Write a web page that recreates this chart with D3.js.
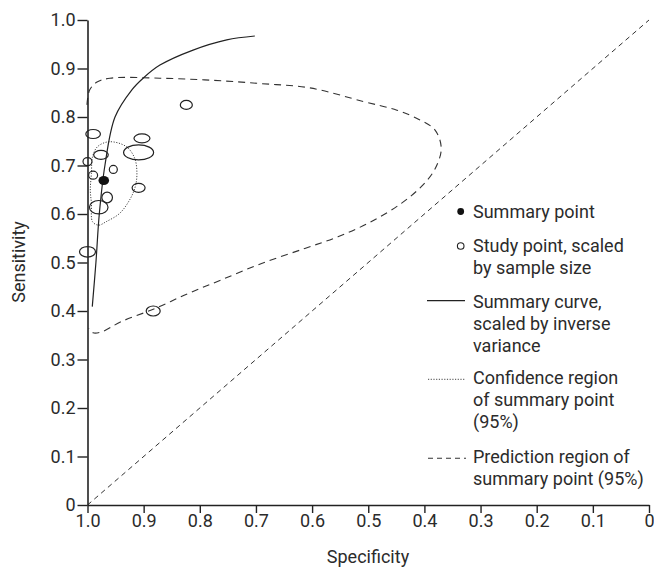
<!DOCTYPE html>
<html><head><meta charset="utf-8">
<script src="https://cdn.jsdelivr.net/npm/d3@7"></script>
<style>
body{margin:0;background:#fff;}
text{font-family:Roboto,"DejaVu Sans",sans-serif;fill:#2b2b2b;}
</style></head>
<body><svg id="c" width="654" height="568"></svg>
<script>
// ---- data ----
const xTicks = [1.0,0.9,0.8,0.7,0.6,0.5,0.4,0.3,0.2,0.1,0];
const yTicks = [0,0.1,0.2,0.3,0.4,0.5,0.6,0.7,0.8,0.9,1.0];
const studySpec = [0.824,0.990,0.903,0.909,0.976,1.000,0.954,0.990,0.909,0.965,0.980,1.000,0.883];
const studySens = [0.825,0.765,0.756,0.727,0.722,0.708,0.692,0.680,0.654,0.634,0.614,0.522,0.400];
const studyNeg  = [60,73,80,150,73,45,40,45,65,53,93,80,70];   // width ~ non-diseased sample
const studyPos  = [45,45,45,75,45,40,40,40,45,53,67,53,50];   // height ~ diseased sample
const summarySpec = 0.971, summarySens = 0.669;
const curveSpec = [0.9915,0.985,0.979,0.969,0.951,0.921,0.901,0.871,0.812,0.752,0.702];
const curveSens = [0.409,0.500,0.600,0.700,0.800,0.856,0.880,0.907,0.938,0.959,0.967];
const confSpec = [0.961,0.931,0.916,0.912,0.915,0.925,0.943,0.967,0.980,0.991,0.993,0.995,0.993,0.991,0.982];
const confSens = [0.749,0.739,0.715,0.684,0.656,0.629,0.601,0.584,0.577,0.584,0.622,0.649,0.684,0.718,0.739];
const predSpec = [1.001,0.996,0.983,0.960,0.871,0.782,0.693,0.604,0.509,0.449,0.408,0.381,0.370,0.382,0.406,0.441,0.495,0.554,0.613,0.690,0.762,0.821,0.880,0.940,0.975,0.990,0.998];
const predSens = [0.825,0.856,0.872,0.880,0.880,0.876,0.869,0.860,0.832,0.814,0.794,0.773,0.735,0.691,0.656,0.622,0.584,0.553,0.529,0.498,0.464,0.436,0.405,0.378,0.357,0.355,0.364];
const legendLabels = [["Summary point"],["Study point, scaled","by sample size"],["Summary curve,","scaled by inverse","variance"],["Confidence region","of summary point","(95%)"],["Prediction region of","summary point (95%)"]];

// ---- chart ----
const svg = d3.select("#c");
const x = d3.scaleLinear().domain([1,0]).range([87.5,649]);
const y = d3.scaleLinear().domain([0,1]).range([505,20]);
const sz = d3.scaleLinear().domain([0,150]).range([0,15]);
const fmt = d => d===0 ? "0" : d3.format(".1f")(d);

// diagonal
svg.append("line").attr("x1",x(1)).attr("y1",y(0)).attr("x2",x(0)).attr("y2",y(1))
  .attr("stroke","#333").attr("stroke-width",1).attr("stroke-dasharray","5,4");

const line = d3.line().x(d=>x(d[0])).y(d=>y(d[1]));

// prediction region
svg.append("path").datum(predSpec.map((s,i)=>[s,predSens[i]]))
  .attr("d", line.curve(d3.curveCatmullRom)).attr("fill","none")
  .attr("stroke","#333").attr("stroke-width",1.1).attr("stroke-dasharray","7,5");

// confidence region
svg.append("path").datum(confSpec.map((s,i)=>[s,confSens[i]]))
  .attr("d", line.curve(d3.curveCatmullRomClosed)).attr("fill","none")
  .attr("stroke","#444").attr("stroke-width",1).attr("stroke-dasharray","1.2,1.5");

// summary curve
svg.append("path").datum(curveSpec.map((s,i)=>[s,curveSens[i]]))
  .attr("d", line.curve(d3.curveCatmullRom)).attr("fill","none")
  .attr("stroke","#222").attr("stroke-width",1.2);

// study points
svg.append("g").selectAll("ellipse").data(studySpec).join("ellipse")
  .attr("cx",(d)=>x(d)).attr("cy",(d,i)=>y(studySens[i]))
  .attr("rx",(d,i)=>sz(studyNeg[i])).attr("ry",(d,i)=>sz(studyPos[i]))
  .attr("fill","none").attr("stroke","#222").attr("stroke-width",1.2);

// summary point
svg.append("ellipse").attr("cx",x(summarySpec)).attr("cy",y(summarySens))
  .attr("rx",5.3).attr("ry",4.5).attr("fill","#111");

// axes
const xAxis = svg.append("g").attr("transform","translate(0,505)")
  .call(d3.axisBottom(x).tickValues(xTicks).tickFormat(fmt).tickSize(8).tickSizeOuter(0).tickPadding(1));
const yAxis = svg.append("g").attr("transform","translate(87.5,0)")
  .call(d3.axisLeft(y).tickValues(yTicks).tickFormat(fmt).tickSize(10).tickSizeOuter(0).tickPadding(2));
[xAxis,yAxis].forEach(a=>{
  a.select(".domain").attr("stroke","#222").attr("stroke-width",1.6);
  a.selectAll(".tick line").attr("stroke","#222").attr("stroke-width",1.4);
  a.selectAll(".tick text").attr("font-size",18).attr("fill","#2b2b2b").style("font-family","Roboto");
});

svg.append("text").attr("x",368).attr("y",563).attr("text-anchor","middle").attr("font-size",18).text("Specificity");
svg.append("text").attr("transform","translate(25,262) rotate(-90)").attr("text-anchor","middle").attr("font-size",18).text("Sensitivity");

// legend
const lg = svg.append("g");
const tx = 473;
const baselines = [218,251.7,308,384,463];
legendLabels.forEach((lines,i)=>{
  const t = lg.append("text").attr("x",tx).attr("y",baselines[i]).attr("font-size",18);
  lines.forEach((l,j)=>t.append("tspan").attr("x",tx).attr("dy",j===0?0:22).text(l));
});
lg.append("circle").attr("cx",460.7).attr("cy",211.5).attr("r",3.4).attr("fill","#111");
lg.append("circle").attr("cx",460.7).attr("cy",246).attr("r",3.3).attr("fill","none").attr("stroke","#222").attr("stroke-width",1.1);
lg.append("line").attr("x1",427).attr("x2",465).attr("y1",300.7).attr("y2",300.7).attr("stroke","#222").attr("stroke-width",1.2);
lg.append("line").attr("x1",428).attr("x2",465).attr("y1",379.3).attr("y2",379.3).attr("stroke","#444").attr("stroke-width",1).attr("stroke-dasharray","1.2,1.5");
lg.append("line").attr("x1",428).attr("x2",466).attr("y1",458.3).attr("y2",458.3).attr("stroke","#333").attr("stroke-width",1.1).attr("stroke-dasharray","5,4");
</script></body></html>
